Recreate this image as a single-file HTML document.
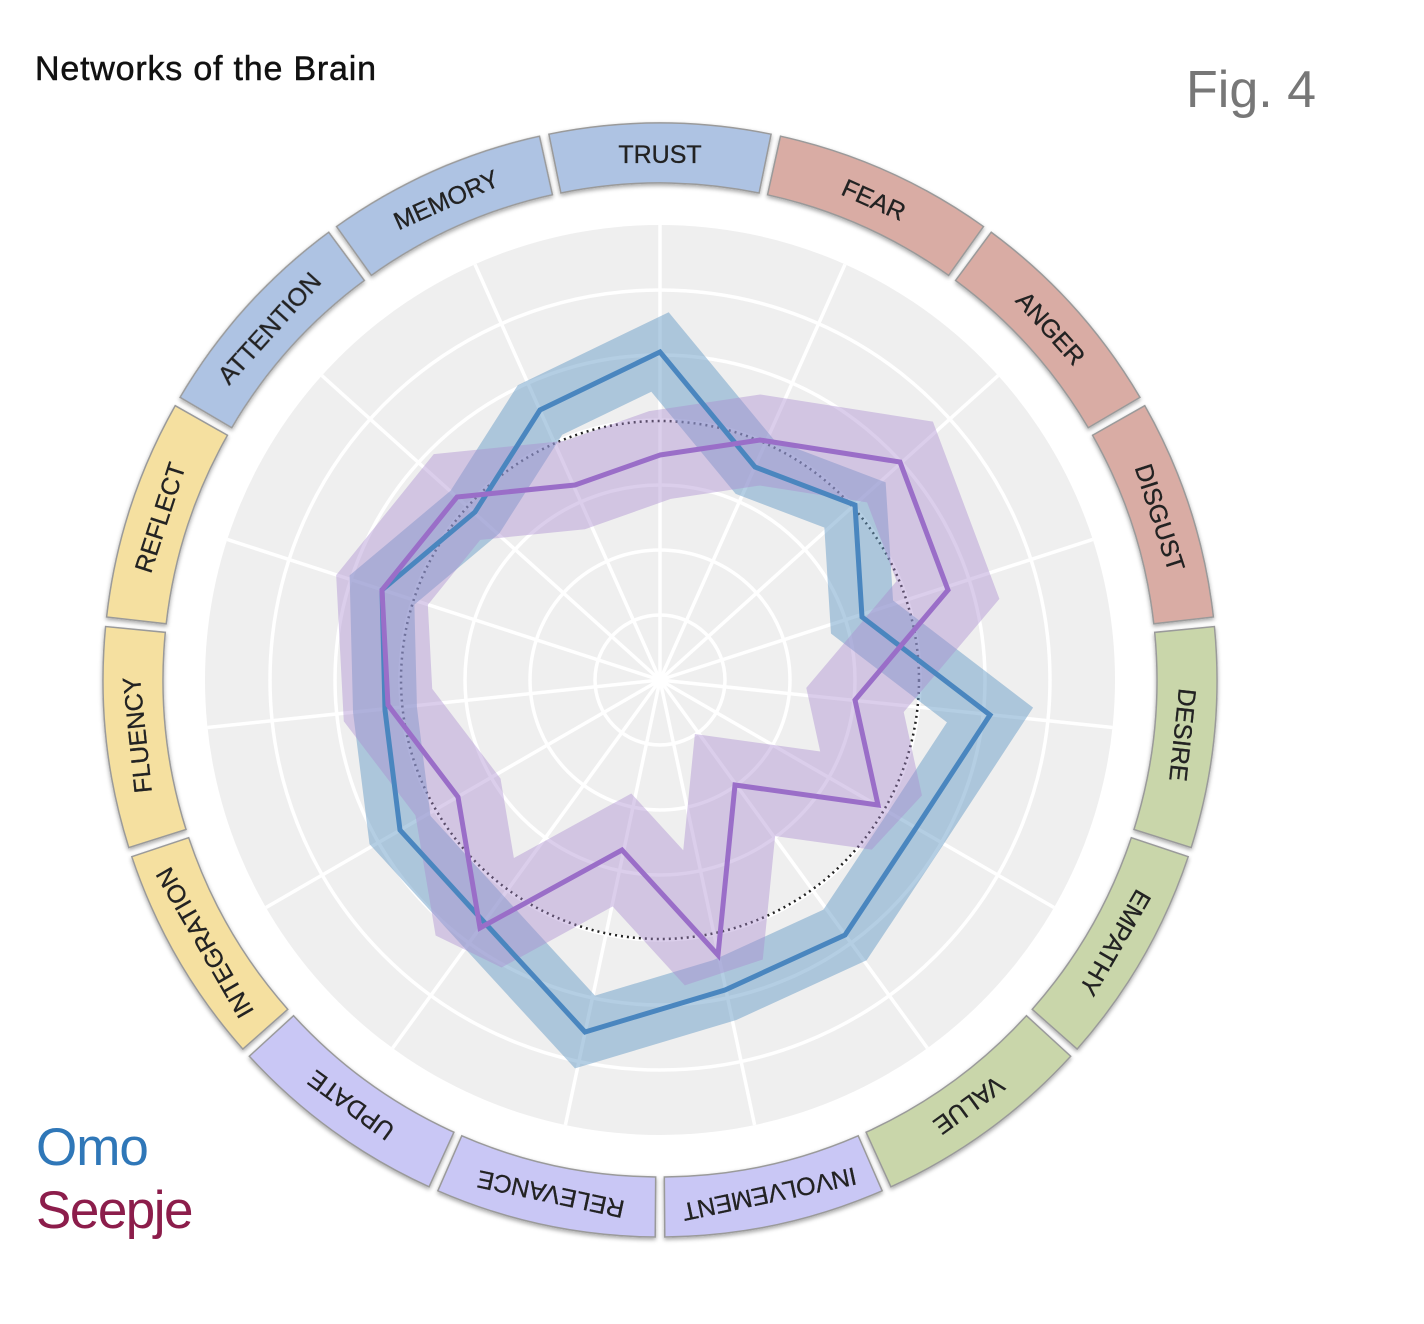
<!DOCTYPE html>
<html><head><meta charset="utf-8"><style>
html,body{margin:0;padding:0;background:#fff;width:1424px;height:1324px;overflow:hidden}
svg text{font-family:"Liberation Sans",sans-serif}
</style></head><body>
<svg width="1424" height="1324" viewBox="0 0 1424 1324" xmlns="http://www.w3.org/2000/svg">
<defs>
<filter id="sh" x="-10%" y="-10%" width="120%" height="130%"><feDropShadow dx="0" dy="2" stdDeviation="2" flood-color="#000" flood-opacity="0.35"/></filter>
</defs>
<text x="35" y="80" font-size="34" fill="#111" stroke="#111" stroke-width="0.5" letter-spacing="0.8">Networks of the Brain</text>
<text x="1186" y="107" font-size="52" fill="#777">Fig. 4</text>
<text x="36" y="1165" font-size="53" fill="#2f77b8" letter-spacing="-1">Omo</text>
<text x="36" y="1228" font-size="53" fill="#8c1d4b" letter-spacing="-1.5">Seepje</text>

<circle cx="660" cy="680" r="455" fill="#efefef"/>
<g stroke="#fff" stroke-width="3.5" fill="none">
<circle cx="660" cy="680" r="65"/><circle cx="660" cy="680" r="130"/><circle cx="660" cy="680" r="195"/>
<circle cx="660" cy="680" r="260"/><circle cx="660" cy="680" r="325"/><circle cx="660" cy="680" r="390"/>
<line x1="660" y1="680" x2="660" y2="225"/><line x1="660" y1="680" x2="845" y2="264.4"/>
<line x1="660" y1="680" x2="998.1" y2="375.6"/><line x1="660" y1="680" x2="1092.8" y2="539.4"/>
<line x1="660" y1="680" x2="1112.5" y2="727.5"/><line x1="660" y1="680" x2="1054" y2="907.5"/>
<line x1="660" y1="680" x2="927.4" y2="1048.1"/><line x1="660" y1="680" x2="754.6" y2="1125"/>
<line x1="660" y1="680" x2="565.4" y2="1125"/><line x1="660" y1="680" x2="392.6" y2="1048.1"/>
<line x1="660" y1="680" x2="266" y2="907.5"/><line x1="660" y1="680" x2="207.5" y2="727.5"/>
<line x1="660" y1="680" x2="227.2" y2="539.4"/><line x1="660" y1="680" x2="321.9" y2="375.6"/>
<line x1="660" y1="680" x2="475" y2="264.4"/>
</g>
<circle cx="660" cy="680" r="259" fill="none" stroke="#222" stroke-width="2.5" stroke-dasharray="2,4"/>

<polygon points="660,352 755,467 855,505 862,617 990,715 916,828 845,935 725,990 585,1032 484,922 400,830 385,710 382,590 475,512 540,410" fill="none" stroke="#6a9ec8" stroke-opacity="0.5" stroke-width="64" stroke-linejoin="miter" stroke-miterlimit="1.8"/>
<polygon points="660,455 760,440 900,462 948,590 855,700 878,805 735,785 718,955 622,850 480,928 458,797 388,705 382,590 457,497 575,485" fill="none" stroke="#a98ad0" stroke-opacity="0.42" stroke-width="90" stroke-linejoin="miter" stroke-miterlimit="1.6"/>
<polygon points="660,352 755,467 855,505 862,617 990,715 916,828 845,935 725,990 585,1032 484,922 400,830 385,710 382,590 475,512 540,410" fill="none" stroke="#4a86bf" stroke-width="5" stroke-linejoin="miter"/>
<polygon points="660,455 760,440 900,462 948,590 855,700 878,805 735,785 718,955 622,850 480,928 458,797 388,705 382,590 457,497 575,485" fill="none" stroke="#9a6ec8" stroke-width="5" stroke-linejoin="miter"/>

<g filter="url(#sh)" stroke="#9a9a9a" stroke-width="1.5">
<g transform="rotate(0 660 680)"><path d="M548.9,134.2 A557,557 0 0 1 771.1,134.2 L759.1,193 A497,497 0 0 0 560.9,193 Z" fill="#aec3e3"/></g>
<g transform="rotate(24 660 680)"><path d="M548.9,134.2 A557,557 0 0 1 771.1,134.2 L759.1,193 A497,497 0 0 0 560.9,193 Z" fill="#d9aca4"/></g>
<g transform="rotate(48 660 680)"><path d="M548.9,134.2 A557,557 0 0 1 771.1,134.2 L759.1,193 A497,497 0 0 0 560.9,193 Z" fill="#d9aca4"/></g>
<g transform="rotate(72 660 680)"><path d="M548.9,134.2 A557,557 0 0 1 771.1,134.2 L759.1,193 A497,497 0 0 0 560.9,193 Z" fill="#d9aca4"/></g>
<g transform="rotate(96 660 680)"><path d="M548.9,134.2 A557,557 0 0 1 771.1,134.2 L759.1,193 A497,497 0 0 0 560.9,193 Z" fill="#c9d6aa"/></g>
<g transform="rotate(120 660 680)"><path d="M548.9,134.2 A557,557 0 0 1 771.1,134.2 L759.1,193 A497,497 0 0 0 560.9,193 Z" fill="#c9d6aa"/></g>
<g transform="rotate(144 660 680)"><path d="M548.9,134.2 A557,557 0 0 1 771.1,134.2 L759.1,193 A497,497 0 0 0 560.9,193 Z" fill="#c9d6aa"/></g>
<g transform="rotate(168 660 680)"><path d="M548.9,134.2 A557,557 0 0 1 771.1,134.2 L759.1,193 A497,497 0 0 0 560.9,193 Z" fill="#c9c7f5"/></g>
<g transform="rotate(192 660 680)"><path d="M548.9,134.2 A557,557 0 0 1 771.1,134.2 L759.1,193 A497,497 0 0 0 560.9,193 Z" fill="#c9c7f5"/></g>
<g transform="rotate(216 660 680)"><path d="M548.9,134.2 A557,557 0 0 1 771.1,134.2 L759.1,193 A497,497 0 0 0 560.9,193 Z" fill="#c9c7f5"/></g>
<g transform="rotate(240 660 680)"><path d="M548.9,134.2 A557,557 0 0 1 771.1,134.2 L759.1,193 A497,497 0 0 0 560.9,193 Z" fill="#f5e0a0"/></g>
<g transform="rotate(264 660 680)"><path d="M548.9,134.2 A557,557 0 0 1 771.1,134.2 L759.1,193 A497,497 0 0 0 560.9,193 Z" fill="#f5e0a0"/></g>
<g transform="rotate(288 660 680)"><path d="M548.9,134.2 A557,557 0 0 1 771.1,134.2 L759.1,193 A497,497 0 0 0 560.9,193 Z" fill="#f5e0a0"/></g>
<g transform="rotate(312 660 680)"><path d="M548.9,134.2 A557,557 0 0 1 771.1,134.2 L759.1,193 A497,497 0 0 0 560.9,193 Z" fill="#aec3e3"/></g>
<g transform="rotate(336 660 680)"><path d="M548.9,134.2 A557,557 0 0 1 771.1,134.2 L759.1,193 A497,497 0 0 0 560.9,193 Z" fill="#aec3e3"/></g>
</g>
<g font-size="25" fill="#222" text-anchor="middle" stroke="#222" stroke-width="0.3">
<text x="660" y="163" transform="rotate(0 660 680)">TRUST</text>
<text x="660" y="163" transform="rotate(24 660 680)">FEAR</text>
<text x="660" y="163" transform="rotate(48 660 680)">ANGER</text>
<text x="660" y="163" transform="rotate(72 660 680)">DISGUST</text>
<text x="660" y="163" transform="rotate(96 660 680)">DESIRE</text>
<text x="660" y="163" transform="rotate(120 660 680)">EMPATHY</text>
<text x="660" y="163" transform="rotate(144 660 680)">VALUE</text>
<text x="660" y="163" transform="rotate(168 660 680)">INVOLVEMENT</text>
<text x="660" y="163" transform="rotate(192 660 680)">RELEVANCE</text>
<text x="660" y="163" transform="rotate(216 660 680)">UPDATE</text>
<text x="660" y="163" transform="rotate(240 660 680)">INTEGRATION</text>
<text x="660" y="163" transform="rotate(264 660 680)">FLUENCY</text>
<text x="660" y="163" transform="rotate(288 660 680)">REFLECT</text>
<text x="660" y="163" transform="rotate(312 660 680)">ATTENTION</text>
<text x="660" y="163" transform="rotate(336 660 680)">MEMORY</text>
</g>
</svg>
</body></html>
